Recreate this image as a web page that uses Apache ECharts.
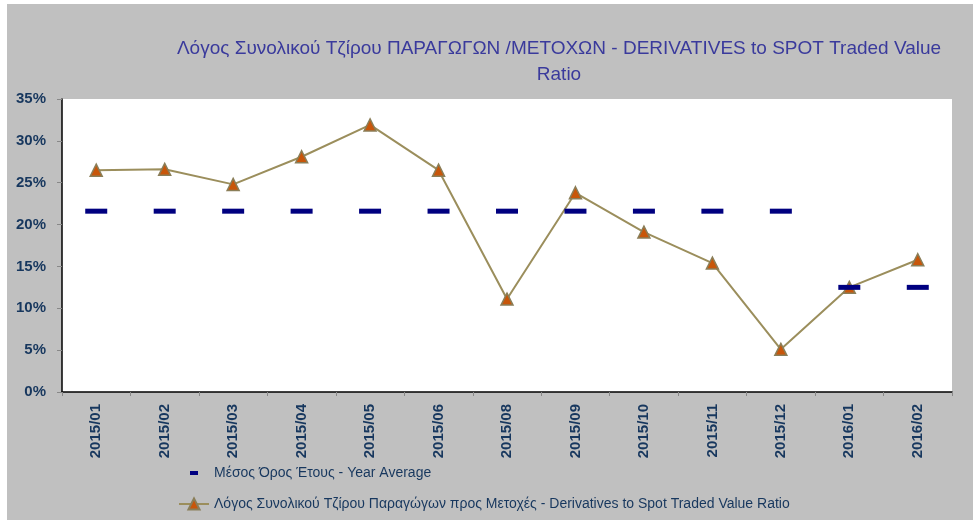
<!DOCTYPE html>
<html>
<head>
<meta charset="utf-8">
<script src="https://cdn.jsdelivr.net/npm/echarts@6/dist/echarts.min.js"></script>
<style>
html,body{margin:0;padding:0;background:#ffffff;width:973px;height:522px;overflow:hidden;}
#main{position:absolute;left:7px;top:4px;width:966px;height:516px;background:#c0c0c0;}
</style>
</head>
<body>
<div id="main"></div>
<script>
var categories = ["2015/01","2015/02","2015/03","2015/04","2015/05","2015/06","2015/08","2015/09","2015/10","2015/11","2015/12","2016/01","2016/02"];
var ratioValues = [26.5, 26.6, 24.8, 28.1, 31.9, 26.5, 11.1, 23.8, 19.1, 15.4, 5.1, 12.5, 15.8];
var yearAverage = [21.6, 21.6, 21.6, 21.6, 21.6, 21.6, 21.6, 21.6, 21.6, 21.6, 21.6, 12.5, 12.5];
var yTicks = [0, 5, 10, 15, 20, 25, 30, 35];

var avgName = "Μέσος Όρος Έτους - Year Average";
var ratioName = "Λόγος Συνολικού Τζίρου Παραγώγων προς Μετοχές - Derivatives to Spot Traded Value Ratio";
var narrow = "'Liberation Sans Narrow', 'Arial Narrow', 'Liberation Sans', sans-serif";

var chart = echarts.init(document.getElementById('main'), null, {renderer: 'canvas'});
chart.setOption({
  backgroundColor: '#c0c0c0',
  animation: false,
  title: {
    text: 'Λόγος Συνολικού Τζίρου ΠΑΡΑΓΩΓΩΝ /ΜΕΤΟΧΩΝ - DERIVATIVES to SPOT Traded Value\nRatio',
    left: 547,
    top: 27,
    textAlign: 'center',
    textStyle: {
      fontFamily: narrow,
      fontSize: 19,
      fontWeight: 'normal',
      color: '#3a3a9c',
      lineHeight: 26,
      align: 'center'
    }
  },
  grid: {left: 55, top: 95, width: 890, height: 293, containLabel: false,
         show: true, backgroundColor: '#ffffff', borderWidth: 0},
  legend: {
    orient: 'vertical',
    left: 166,
    top: 457,
    itemGap: 17,
    itemWidth: 30,
    itemHeight: 14,
    textStyle: {fontFamily: narrow, fontSize: 14, color: '#17375e'},
    data: [
      {name: avgName, icon: 'path://M0,0M30,14M11,5h8v4h-8z'},
      {name: ratioName}
    ]
  },
  xAxis: {
    type: 'category',
    data: categories,
    boundaryGap: true,
    axisLine: {lineStyle: {color: '#000000', width: 1.5}},
    axisTick: {show: true, alignWithLabel: false, length: 4, lineStyle: {color: '#888888'}},
    axisLabel: {
      rotate: 90,
      interval: 0,
      margin: 12,
      fontFamily: narrow,
      fontSize: 15,
      fontWeight: 'bold',
      color: '#17375e'
    },
    splitLine: {show: false}
  },
  yAxis: {
    type: 'value',
    min: yTicks[0],
    max: yTicks[yTicks.length - 1],
    interval: 5,
    axisLine: {show: true, lineStyle: {color: '#000000', width: 1.5}},
    axisTick: {show: true, length: 5, lineStyle: {color: '#888888'}},
    axisLabel: {
      formatter: '{value}%',
      margin: 16,
      fontFamily: "'Liberation Sans', Arial, sans-serif",
      fontSize: 15,
      fontWeight: 'bold',
      color: '#17375e'
    },
    splitLine: {show: false}
  },
  series: [
    {
      name: ratioName,
      type: 'line',
      data: ratioValues,
      symbol: 'triangle',
      symbolSize: 12,
      z: 2,
      lineStyle: {color: '#9b8e5c', width: 2},
      itemStyle: {color: '#c8560a', borderColor: '#8a7e58', borderWidth: 1.5}
    },
    {
      name: avgName,
      type: 'scatter',
      data: yearAverage,
      symbol: 'rect',
      symbolSize: [22, 5],
      z: 3,
      itemStyle: {color: '#000080', opacity: 1}
    }
  ]
});
</script>
</body>
</html>
